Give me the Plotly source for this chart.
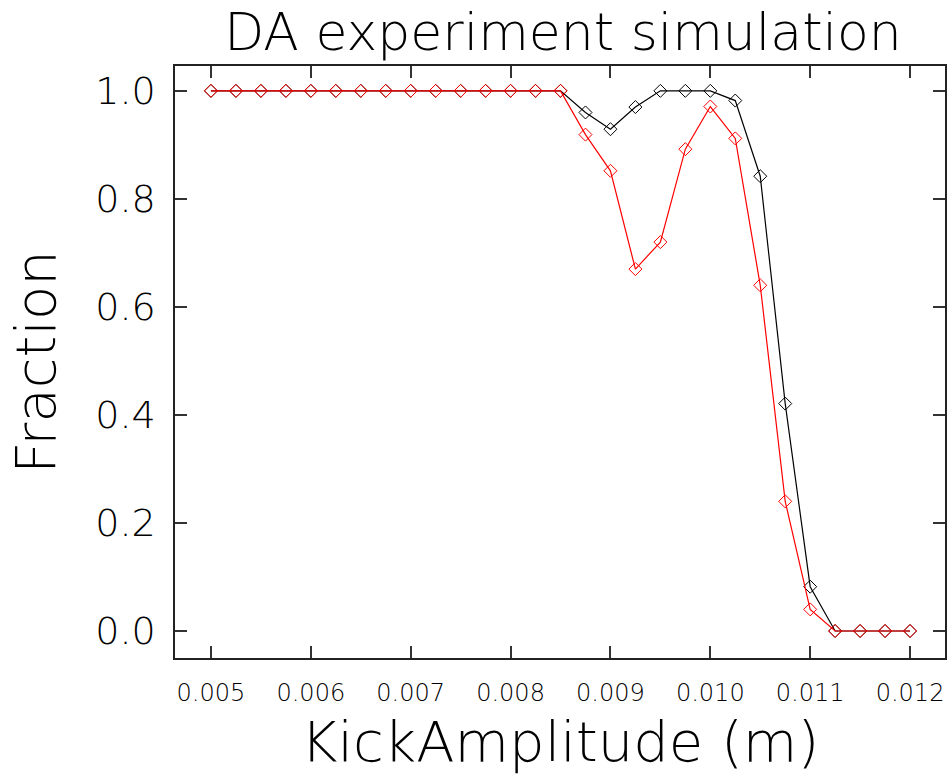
import plotly.graph_objects as go

kick = [0.005 + 0.00025 * i for i in range(29)]
kick = [round(k, 5) for k in kick]

black_frac = [1.0] * 15 + [0.96, 0.929, 0.97, 1.0, 1.0, 1.0, 0.982, 0.842, 0.421, 0.082, 0.0, 0.0, 0.0, 0.0]
red_frac = [1.0] * 15 + [0.919, 0.852, 0.67, 0.72, 0.892, 0.971, 0.912, 0.64, 0.24, 0.04, 0.0, 0.0, 0.0, 0.0]

x_ticks = [0.005, 0.006, 0.007, 0.008, 0.009, 0.010, 0.011, 0.012]
x_ticklabels = ["0.005", "0.006", "0.007", "0.008", "0.009", "0.010", "0.011", "0.012"]
y_ticks = [0.0, 0.2, 0.4, 0.6, 0.8, 1.0]
y_ticklabels = ["0.0", "0.2", "0.4", "0.6", "0.8", "1.0"]

FONT = "DejaVu Sans"
W = 200

fig = go.Figure()
fig.add_trace(go.Scatter(
    x=kick, y=black_frac, mode="lines+markers",
    line=dict(color="black", width=1.2),
    marker=dict(symbol="diamond-open", size=10, color="black", line=dict(width=1)),
    name="black", showlegend=False,
))
fig.add_trace(go.Scatter(
    x=kick, y=red_frac, mode="lines+markers",
    line=dict(color="red", width=1.2),
    marker=dict(symbol="diamond-open", size=10, color="red", line=dict(width=1)),
    name="red", showlegend=False,
))

fig.update_layout(
    width=951, height=782,
    margin=dict(l=175, r=4, t=66, b=124),
    paper_bgcolor="white", plot_bgcolor="white",
    title=dict(text="DA experiment simulation", x=0.592, xanchor="center",
               y=1 - 32 / 782, yanchor="middle", yref="container",
               font=dict(family=FONT, size=52, color="black", weight=W)),
    xaxis=dict(
        range=[0.00464, 0.01235],
        tickmode="array", tickvals=x_ticks, ticktext=x_ticklabels,
        ticks="inside", ticklen=12, tickcolor="#333", tickwidth=1.5,
        showline=True, linecolor="#222", linewidth=1.5, mirror="ticks",
        showgrid=False, zeroline=False,
        tickfont=dict(family=FONT, size=24, color="black", weight=W),
        ticklabelstandoff=12,
        title=dict(text="KickAmplitude (m)", standoff=16,
                   font=dict(family=FONT, size=56, color="black", weight=W)),
    ),
    yaxis=dict(
        range=[-0.05, 1.046],
        tickmode="array", tickvals=y_ticks, ticktext=y_ticklabels,
        ticks="inside", ticklen=12, tickcolor="#333", tickwidth=1.5,
        showline=True, linecolor="#222", linewidth=1.5, mirror="ticks",
        showgrid=False, zeroline=False,
        tickfont=dict(family=FONT, size=38, color="black", weight=W),
        ticklabelstandoff=10,
        title=dict(text="Fraction", standoff=22,
                   font=dict(family=FONT, size=56, color="black", weight=W)),
    ),
)

fig.write_html("out.html")
